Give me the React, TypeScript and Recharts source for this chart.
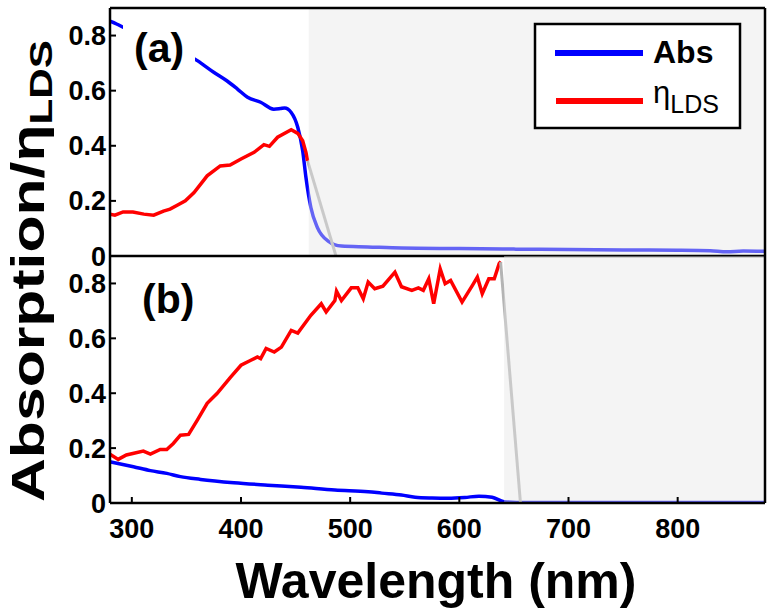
import React from 'react';
import { LineChart, Line, XAxis, YAxis, ReferenceArea } from 'recharts';

const xTicks = [300, 400, 500, 600, 700, 800];
const yTicks = [0, 0.2, 0.4, 0.6, 0.8];

// panel (a): [wavelength nm, value]
const absA: [number, number][] = [
  [280, 0.852], [286, 0.842], [292, 0.83], [360, 0.709], [375, 0.667], [387, 0.636],
  [397, 0.605], [406, 0.576], [418, 0.558], [430, 0.533], [436, 0.535], [440, 0.537],
  [446, 0.521], [452, 0.467], [456.5, 0.382], [459.5, 0.285], [464, 0.176], [470, 0.103],
  [479.5, 0.055], [492, 0.036], [516, 0.033], [547, 0.029], [600, 0.027], [650, 0.025],
  [700, 0.024], [750, 0.022], [800, 0.021], [830, 0.019], [845, 0.015], [860, 0.018], [880, 0.017],
];
const etaA: [number, number][] = [
  [280, 0.152], [284.5, 0.148], [292, 0.16], [301, 0.16], [311, 0.152], [320, 0.148],
  [329, 0.163], [335, 0.17], [342, 0.185], [349, 0.2], [357, 0.23], [369, 0.291],
  [381, 0.327], [390, 0.33], [400, 0.352], [412, 0.376], [421, 0.404], [426, 0.398],
  [433.5, 0.431], [446, 0.458], [452, 0.445], [456.5, 0.418], [459.5, 0.376], [461, 0.345],
];
const edgeA: [number, number][] = [[461, 0.345], [487, 0]];

// panel (b)
const absB: [number, number][] = [
  [280, 0.15], [301.5, 0.132], [317, 0.118], [332, 0.108], [344.5, 0.096], [363, 0.086],
  [393.5, 0.074], [424.5, 0.065], [455, 0.057], [486, 0.047], [516.5, 0.041], [529, 0.036],
  [547, 0.029], [559.5, 0.021], [575, 0.018], [590, 0.017], [605, 0.02], [618, 0.025],
  [630, 0.021], [641, 0.005], [660, 0.002], [880, 0.002],
];
const etaB: [number, number][] = [
  [280, 0.178], [287.5, 0.159], [295, 0.175], [310.5, 0.189], [317, 0.178], [326, 0.195],
  [332, 0.195], [338, 0.217], [344.5, 0.247], [352, 0.25], [360, 0.302], [369, 0.363],
  [378, 0.399], [390.5, 0.459], [400, 0.502], [409, 0.52], [415, 0.532], [418, 0.526],
  [423, 0.563], [430.5, 0.55], [437, 0.568], [446, 0.629], [452, 0.619], [464, 0.684],
  [473.5, 0.726], [478, 0.696], [486, 0.738], [487.5, 0.772], [492, 0.738], [501, 0.784],
  [507, 0.784], [512, 0.744], [516.5, 0.805], [522.5, 0.781], [530, 0.79], [541, 0.841],
  [547, 0.788], [556.5, 0.775], [562.5, 0.784], [567, 0.775], [572, 0.817], [576.5, 0.726],
  [582.5, 0.853], [587, 0.799], [592, 0.811], [602.5, 0.732], [612, 0.793], [616.5, 0.823],
  [621, 0.763], [627, 0.817], [632, 0.817], [636.5, 0.872], [638, 0.88],
];
const edgeB: [number, number][] = [[637.8, 0.878], [656, 0]];

const toPts = (arr: [number, number][]) => arr.map(([x, y]) => ({ x, y }));

const FONT = '"Liberation Sans", Arial, Helvetica, sans-serif';
const tickStyle = { fill: '#000', fontSize: 27, fontWeight: 700, fontFamily: FONT };
const fmtY = (v: number) => (v === 0 ? '0' : v.toFixed(1));
const axisLine = { stroke: '#000', strokeWidth: 2.5 };
const tickLine = { stroke: '#000', strokeWidth: 2 };

type PanelProps = {
  abs: [number, number][];
  eta: [number, number][];
  edge: [number, number][];
  shadeFrom: number;
  top: number;
  height: number;
  bottom: number;
  showX: boolean;
};

function Panel({ abs, eta, edge, shadeFrom, top, height, bottom, showX }: PanelProps) {
  return (
    <div style={{ position: 'absolute', left: 0, top }}>
      <LineChart width={774} height={height} margin={{ top: showX ? 0 : 7, right: 8, bottom, left: 0 }}>
        <Line data={toPts(abs)} dataKey="y" type="monotone" stroke="#0000ff" strokeWidth={3.5}
          dot={false} activeDot={false} isAnimationActive={false} />
        <Line data={toPts(eta)} dataKey="y" type="linear" stroke="#ff0000" strokeWidth={3.5}
          dot={false} activeDot={false} isAnimationActive={false} />
        <Line data={toPts(edge)} dataKey="y" type="linear" stroke="#b4b4b4" strokeWidth={3}
          dot={false} activeDot={false} isAnimationActive={false} />
        <ReferenceArea x1={shadeFrom} x2={880} y1={0} y2={0.9} fill="#e6e6e6" fillOpacity={0.435}
          stroke="none" zIndex={450} />
        <XAxis dataKey="x" type="number" domain={[280, 880]} ticks={xTicks} interval={0}
          allowDataOverflow height={showX ? 60 : 1} tickSize={-6} tickMargin={21.5}
          tick={showX ? tickStyle : false} axisLine={axisLine} tickLine={tickLine} />
        <XAxis xAxisId="top" orientation="top" dataKey="x" type="number" domain={[280, 880]}
          ticks={xTicks} interval={0} height={1} tickSize={-6} tick={false}
          axisLine={showX ? false : axisLine} tickLine={tickLine} />
        <YAxis type="number" domain={[0, 0.9]} ticks={yTicks} interval={0} allowDataOverflow
          width={110} tickSize={-6} tickMargin={10} tick={tickStyle} tickFormatter={fmtY}
          axisLine={axisLine} tickLine={tickLine} />
        <YAxis yAxisId="r" orientation="right" type="number" domain={[0, 0.9]} ticks={yTicks}
          interval={0} width={1} tickSize={-6} tick={false} axisLine={axisLine} tickLine={tickLine} />
      </LineChart>
    </div>
  );
}

export default function App() {
  return (
    <div style={{ position: 'absolute', left: 0, top: 0, width: 774, height: 608, background: '#fff', fontFamily: FONT }}>
      <Panel abs={absA} eta={etaA} edge={edgeA} shadeFrom={462} top={0} height={272} bottom={15} showX={false} />
      <Panel abs={absB} eta={etaB} edge={edgeB} shadeFrom={641} top={255} height={353} bottom={45} showX />
      <svg width={774} height={608} style={{ position: 'absolute', left: 0, top: 0, pointerEvents: 'none' }}
        fontFamily={FONT}>
        <text transform="translate(44,271) rotate(-90)" textAnchor="middle" fontSize={46} fontWeight={700}
          textLength={462} lengthAdjust="spacingAndGlyphs">
          Absorption/η<tspan fontSize={32} dy={8}>LDS</tspan>
        </text>
        <text x={436} y={598} textAnchor="middle" fontSize={50} fontWeight={700}>Wavelength (nm)</text>

        <rect x={123} y={20} width={72} height={52} fill="#fff" />
        <text x={134} y={62} fontSize={41} fontWeight={700}>(a)</text>
        <text x={142} y={313} fontSize={41} fontWeight={700}>(b)</text>

        <rect x={535} y={24} width={205} height={104} fill="#fff" stroke="#000" strokeWidth={2.5} />
        <line x1={555} y1={53} x2={643} y2={53} stroke="#0000ff" strokeWidth={6} />
        <text x={653} y={63} fontSize={32} fontWeight={700}>Abs</text>
        <line x1={556} y1={101} x2={643} y2={101} stroke="#ff0000" strokeWidth={6} />
        <text x={653} y={103} fontSize={31}>
          η<tspan fontSize={25} dy={10}>LDS</tspan>
        </text>
      </svg>
    </div>
  );
}
